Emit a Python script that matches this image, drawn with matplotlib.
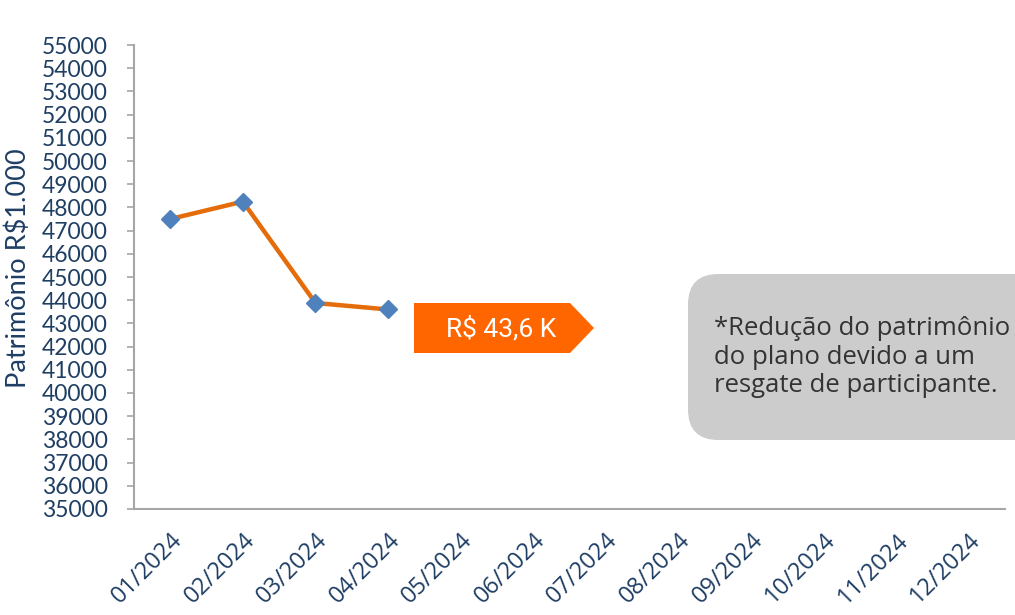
import matplotlib.pyplot as plt
from matplotlib.patches import Polygon, FancyBboxPatch

months = ['01/2024', '02/2024', '03/2024', '04/2024', '05/2024', '06/2024',
          '07/2024', '08/2024', '09/2024', '10/2024', '11/2024', '12/2024']
patrimonio = [47500, 48250, 43880, 43600]

label_color = '#1F3E64'
W, H = 1015, 615

fig = plt.figure(figsize=(W / 100, H / 100), dpi=100)
ax = fig.add_axes([134 / W, 1 - 509 / H, (1005 - 134) / W, (509 - 45) / H])

x = list(range(len(patrimonio)))
ax.plot(x, patrimonio, color='#E46C0A', linewidth=3.2, zorder=2)
ax.plot(x, patrimonio, linestyle='none', marker='D', markersize=9,
        color='#4F81BD', zorder=3)

ax.set_xlim(-0.5, len(months) - 0.5)
ax.set_ylim(35000, 55000)
ax.set_yticks(range(35000, 55001, 1000))
ax.set_xticks(range(len(months)))
ax.set_xticklabels(months, rotation=45, ha='right', rotation_mode='anchor',
                   fontsize=17, color=label_color, family='Open Sans')
for lbl in ax.get_yticklabels():
    lbl.set_fontsize(16.5)
    lbl.set_color(label_color)
    lbl.set_family('Lato')

for s in ['top', 'right']:
    ax.spines[s].set_visible(False)
for s in ['left', 'bottom']:
    ax.spines[s].set_color('#A6A6A6')
    ax.spines[s].set_linewidth(1.5)
ax.tick_params(axis='y', length=5, color='#A6A6A6', width=1.2, pad=14)
ax.tick_params(axis='x', length=0, pad=14)

fig.text(18 / W, 1 - 268 / H, 'Patrimônio R$1.000', rotation=90,
         ha='center', va='center', fontsize=19.5, color=label_color, family='Lato')

# orange value tag
def px(xp, yp):
    return (xp / W, 1 - yp / H)

tag = Polygon([px(414, 303), px(570, 303), px(594, 328), px(570, 353), px(414, 353)],
              closed=True, facecolor='#FF6600', edgecolor='none',
              transform=fig.transFigure)
fig.patches.append(tag)
fig.text(501 / W, 1 - 329 / H, 'R$ 43,6 K', ha='center', va='center',
         fontsize=19, color='white', family='Roboto')

# gray note box
box = FancyBboxPatch(px(688, 440), 400 / W, 166 / H,
                     boxstyle='round,pad=0,rounding_size=0.03',
                     facecolor='#CCCCCC', edgecolor='none',
                     transform=fig.transFigure, mutation_aspect=W / H)
fig.patches.append(box)
fig.text(714 / W, 1 - 357 / H,
         '*Redução do patrimônio\ndo plano devido a um\nresgate de participante.',
         ha='left', va='center', fontsize=18.5, color='#333333',
         family='Open Sans', linespacing=1.2)

fig.savefig('out.png', dpi=100)
